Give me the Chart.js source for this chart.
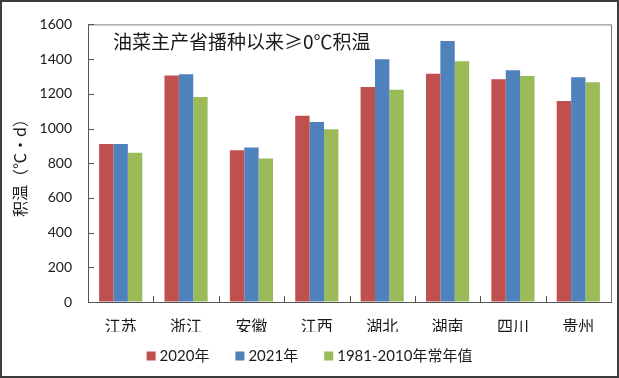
<!DOCTYPE html>
<html lang="zh">

<head>
    <meta charset="UTF-8">
    <title>油菜主产省积温</title>
    <script src="https://cdn.jsdelivr.net/npm/chart.js@4.4.0/dist/chart.umd.min.js"></script>
    <style>
        body { margin: 0; background: #fff; }
        #wrap { width: 619px; height: 378px; position: relative; }
    </style>
</head>

<body>
    <div id="wrap"><canvas id="chart"></canvas></div>
    <script>
        // data
        const provinces = ['江苏', '浙江', '安徽', '江西', '湖北', '湖南', '四川', '贵州'];
        const acc2020 = [910, 1306, 874, 1074, 1239, 1316, 1284, 1158];
        const acc2021 = [910, 1312, 890, 1037, 1399, 1505, 1336, 1295];
        const accNormal = [860, 1182, 827, 996, 1223, 1388, 1303, 1267];
        const seriesNames = ['2020年', '2021年', '1981-2010年常年值'];
        const seriesColors = ['#C0504D', '#4F81BD', '#9BBB59'];
        const yMin = 0, yMax = 1600, yStep = 200;
        const chartTitle = '油菜主产省播种以来≥0℃积温';
        const yTitle = '积温（℃·d）';

        const cjk = '"Noto Sans CJK SC", sans-serif';
        const latin = 'Lato, "Noto Sans CJK SC", sans-serif';

        // frame, inside ticks, title and legend
        const decor = {
            id: 'decor',
            afterDraw(chart) {
                const ctx = chart.ctx;
                const a = chart.chartArea;
                const xs = chart.scales.x, ys = chart.scales.y;
                ctx.save();
                // outer border
                ctx.strokeStyle = '#3c3c3c';
                ctx.lineWidth = 2;
                ctx.strokeRect(1, 1, chart.width - 2, chart.height - 2);
                // plot frame top / right
                ctx.lineWidth = 1;
                ctx.strokeStyle = '#7a7a7a';
                ctx.beginPath();
                ctx.moveTo(a.left, a.top + 0.5);
                ctx.lineTo(a.right + 0.5, a.top + 0.5);
                ctx.lineTo(a.right + 0.5, a.bottom);
                ctx.stroke();
                // tick marks pointing inside
                ctx.strokeStyle = '#555';
                ctx.beginPath();
                ys.ticks.forEach(t => {
                    const y = Math.round(ys.getPixelForValue(t.value)) + 0.5;
                    ctx.moveTo(a.left, y);
                    ctx.lineTo(a.left + 6, y);
                });
                for (let i = 1; i < provinces.length; i++) {
                    const x = Math.round((xs.getPixelForValue(i - 1) + xs.getPixelForValue(i)) / 2) + 0.5;
                    ctx.moveTo(x, a.bottom);
                    ctx.lineTo(x, a.bottom - 6);
                }
                ctx.stroke();
                // title inside plot
                ctx.fillStyle = '#1a1a1a';
                ctx.font = '19px ' + cjk;
                ctx.textAlign = 'left';
                ctx.textBaseline = 'middle';
                ctx.fillText(chartTitle, a.left + 25, 42);
                // y axis title
                ctx.save();
                ctx.translate(20, 164);
                ctx.rotate(-Math.PI / 2);
                ctx.textAlign = 'center';
                ctx.font = '16px ' + cjk;
                ctx.fillText(yTitle, 0, 0);
                ctx.restore();
                // legend
                ctx.font = '15px ' + latin;
                const box = 9, gap = 4, itemGap = 26;
                const items = chart.data.datasets.map(d => ({ text: d.label, color: d.backgroundColor, w: ctx.measureText(d.label).width }));
                let total = 0;
                items.forEach((it, i) => { total += box + gap + it.w + (i ? itemGap : 0); });
                let x = (chart.width - total) / 2;
                const ly = 356;
                items.forEach(it => {
                    ctx.fillStyle = it.color;
                    ctx.fillRect(x, ly - box / 2, box, box);
                    ctx.fillStyle = '#1a1a1a';
                    ctx.textAlign = 'left';
                    ctx.fillText(it.text, x + box + gap, ly);
                    x += box + gap + it.w + itemGap;
                });
                ctx.restore();
            }
        };

        new Chart(document.getElementById('chart'), {
            type: 'bar',
            data: {
                labels: provinces,
                datasets: [
                    { label: seriesNames[0], data: acc2020, backgroundColor: seriesColors[0] },
                    { label: seriesNames[1], data: acc2021, backgroundColor: seriesColors[1] },
                    { label: seriesNames[2], data: accNormal, backgroundColor: seriesColors[2] }
                ]
            },
            options: {
                responsive: true,
                maintainAspectRatio: false,
                animation: false,
                layout: { padding: { left: 0, right: 8, top: 15, bottom: 46 } },
                datasets: { bar: { barPercentage: 1, categoryPercentage: 0.66 } },
                plugins: { legend: { display: false }, tooltip: { enabled: false } },
                scales: {
                    x: {
                        grid: { display: true, drawOnChartArea: false, drawTicks: false },
                        border: { display: true, color: '#555', width: 1 },
                        ticks: { padding: 14, color: '#1a1a1a', font: { family: cjk, size: 16 } },
                        afterFit: s => { s.height = 30; }
                    },
                    y: {
                        min: yMin,
                        max: yMax,
                        grid: { display: true, drawOnChartArea: false, drawTicks: false },
                        border: { display: true, color: '#555', width: 1 },
                        ticks: {
                            stepSize: yStep, padding: 16, color: '#1a1a1a',
                            font: { family: latin, size: 14 },
                            callback: v => String(v)
                        },
                        afterFit: s => { s.width = 88; }
                    }
                }
            },
            plugins: [decor]
        });
    </script>
</body>

</html>
